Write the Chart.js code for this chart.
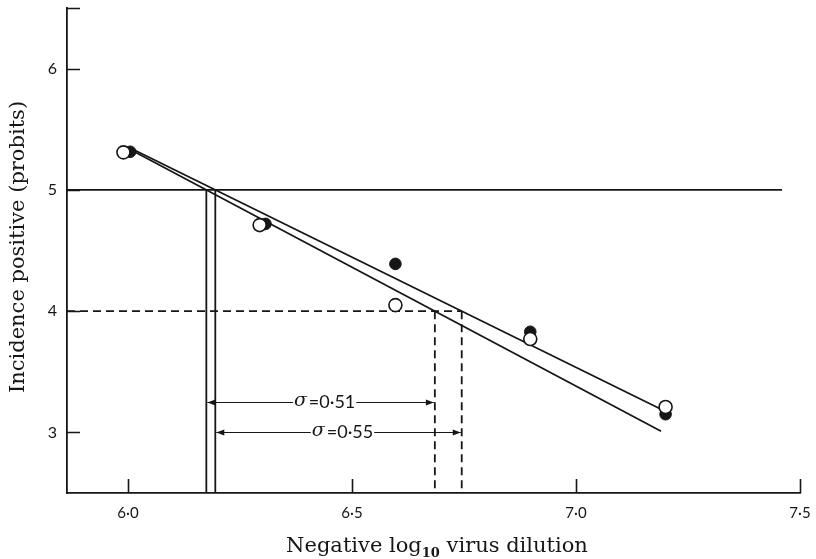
<!DOCTYPE html>
<html>
<head>
<meta charset="utf-8">
<script src="https://cdn.jsdelivr.net/npm/chart.js@4.4.0/dist/chart.umd.min.js"></script>
<style>
  html, body { margin: 0; padding: 0; background: #fff; }
</style>
</head>
<body>
<canvas id="myChart" width="816" height="559"></canvas>
<script>
// observations (open and filled circles)
const openX = [5.99, 6.294, 6.597, 6.898, 7.2];
const openY = [5.31, 4.71, 4.05, 3.77, 3.21];
const filledX = [6.005, 6.307, 6.597, 6.898, 7.2];
const filledY = [5.315, 4.72, 4.39, 3.83, 3.15];

// fitted probit lines: 50% end point and sigma
const ed50 = [6.175, 6.195];
const sigma = [0.51, 0.55];
const fitFrom = 6.005;
const fitTo = 7.19;
const arrowY = [3.25, 3.0];

// axes
const xMin = 5.864, xMax = 7.5;
const yMin = 2.5, yMax = 6.5;
const xTicks = [6.0, 6.5, 7.0, 7.5];
const yTicks = [3, 4, 5, 6, 6.5];
const refEnd = 7.46;

const ink = '#161616';
const sans = 'Lato, "Open Sans", sans-serif';
const serif = '"DejaVu Serif", "Liberation Serif", serif';

const dot = v => v.replace('.', '\u00b7');
const probit = (x, i) => 5 - (x - ed50[i]) / sigma[i];

function seg(data, dashed) {
  return {
    data: data,
    showLine: true,
    borderColor: ink,
    borderWidth: 1.8,
    borderDash: dashed ? [8, 5] : [],
    pointRadius: 0,
    pointHoverRadius: 0,
    order: 3,
  };
}

const datasets = [
  {
    data: openX.map((x, i) => ({ x: x, y: openY[i] })),
    pointStyle: 'circle',
    pointRadius: 6.5,
    pointBackgroundColor: '#fff',
    pointBorderColor: ink,
    pointBorderWidth: 1.6,
    order: 0,
  },
  {
    data: filledX.map((x, i) => ({ x: x, y: filledY[i] })),
    pointStyle: 'circle',
    pointRadius: 5.8,
    pointBackgroundColor: ink,
    pointBorderColor: ink,
    pointBorderWidth: 1,
    order: 1,
  },
];

ed50.forEach((e, i) => {
  datasets.push(seg([{ x: fitFrom, y: probit(fitFrom, i) }, { x: fitTo, y: probit(fitTo, i) }], false));
  datasets.push(seg([{ x: e, y: 5 }, { x: e, y: yMin }], false));
  datasets.push(seg([{ x: e + sigma[i], y: 4 }, { x: e + sigma[i], y: yMin }], true));
});
datasets.push(seg([{ x: xMin, y: 5 }, { x: refEnd, y: 5 }], false));
datasets.push(seg([{ x: xMin, y: 4 }, { x: ed50[1] + sigma[1], y: 4 }], true));

// inward tick marks, sigma arrows and axis titles
const extras = {
  id: 'extras',
  afterDraw(chart) {
    const ctx = chart.ctx;
    const xs = chart.scales.x, ys = chart.scales.y;
    const area = chart.chartArea;
    ctx.save();
    ctx.strokeStyle = ink;
    ctx.fillStyle = ink;
    ctx.lineWidth = 1.6;

    ctx.beginPath();
    xTicks.forEach(v => {
      const px = Math.round(xs.getPixelForValue(v)) + 0.5;
      ctx.moveTo(px, area.bottom);
      ctx.lineTo(px, area.bottom - 14);
    });
    yTicks.forEach(v => {
      const py = Math.round(ys.getPixelForValue(v)) + 0.5;
      ctx.moveTo(area.left, py);
      ctx.lineTo(area.left + 13, py);
    });
    ctx.stroke();

    // sigma arrows
    ctx.lineWidth = 1.2;
    sigma.forEach((s, i) => {
      const x1 = xs.getPixelForValue(ed50[i]);
      const x2 = xs.getPixelForValue(ed50[i] + s);
      const y = Math.round(ys.getPixelForValue(arrowY[i])) + 0.5;
      const sym = '\u03c3';
      const rest = '=' + dot(s.toFixed(2));
      ctx.font = 'italic 19px ' + serif;
      const w1 = ctx.measureText(sym).width;
      ctx.font = '18px ' + sans;
      const w2 = ctx.measureText(rest).width;
      const w = w1 + w2 + 2;
      const cx = (x1 + x2) / 2 + 4;
      const tx = cx - w / 2;
      ctx.textBaseline = 'middle';
      ctx.textAlign = 'left';
      ctx.font = 'italic 19px ' + serif;
      ctx.fillText(sym, tx, y - 1);
      ctx.font = '18px ' + sans;
      ctx.fillText(rest, tx + w1 + 2, y);

      ctx.beginPath();
      ctx.moveTo(x1 + 1, y);
      ctx.lineTo(tx - 1, y);
      ctx.moveTo(tx + w + 1, y);
      ctx.lineTo(x2 - 1, y);
      ctx.stroke();
      [[x1 + 1, 1], [x2 - 1, -1]].forEach(([ax, d]) => {
        ctx.beginPath();
        ctx.moveTo(ax, y);
        ctx.lineTo(ax + 8 * d, y - 3);
        ctx.lineTo(ax + 8 * d, y + 3);
        ctx.closePath();
        ctx.fill();
      });
    });

    // x title with subscript
    ctx.textBaseline = 'alphabetic';
    ctx.textAlign = 'left';
    const parts = [
      ['Negative log', '21px ' + serif, 0],
      ['10', 'bold 13px ' + serif, 5],
      [' virus dilution', '21px ' + serif, 0],
    ];
    let total = 0;
    parts.forEach(p => { ctx.font = p[1]; total += ctx.measureText(p[0]).width; });
    let px = 437 - total / 2;
    parts.forEach(p => {
      ctx.font = p[1];
      ctx.fillText(p[0], px, 552 + p[2]);
      px += ctx.measureText(p[0]).width;
    });

    // y title
    ctx.translate(19, 247);
    ctx.rotate(-Math.PI / 2);
    ctx.textAlign = 'center';
    ctx.textBaseline = 'middle';
    ctx.font = '21px ' + serif;
    ctx.fillText('Incidence positive (probits)', 0, 0);
    ctx.restore();
  },
};

new Chart(document.getElementById('myChart'), {
  type: 'scatter',
  data: { datasets: datasets },
  options: {
    responsive: false,
    animation: false,
    events: [],
    layout: { padding: { left: 0, top: 7, right: 16, bottom: 0 } },
    plugins: {
      legend: { display: false },
      tooltip: { enabled: false },
    },
    scales: {
      x: {
        type: 'linear',
        min: xMin,
        max: xMax,
        afterBuildTicks: s => { s.ticks = xTicks.map(v => ({ value: v })); },
        afterFit: s => {
          s.height = 66;
          s.paddingLeft = 0;
          s.paddingRight = 0;
        },
        grid: { display: false, drawTicks: false },
        border: { display: true, color: ink, width: 1.8 },
        ticks: {
          autoSkip: false,
          maxRotation: 0,
          padding: 11,
          color: ink,
          font: { family: sans, size: 15 },
          callback: v => dot(v.toFixed(1)),
        },
      },
      y: {
        type: 'linear',
        min: yMin,
        max: yMax,
        afterBuildTicks: s => { s.ticks = yTicks.map(v => ({ value: v })); },
        afterFit: s => {
          s.width = 67;
          s.paddingTop = 0;
          s.paddingBottom = 0;
        },
        grid: { display: false, drawTicks: false },
        border: { display: true, color: ink, width: 1.8 },
        ticks: {
          autoSkip: false,
          padding: 10,
          color: ink,
          font: { family: sans, size: 16 },
          callback: v => (Number.isInteger(v) ? String(v) : null),
        },
      },
    },
  },
  plugins: [extras],
});
</script>
</body>
</html>
